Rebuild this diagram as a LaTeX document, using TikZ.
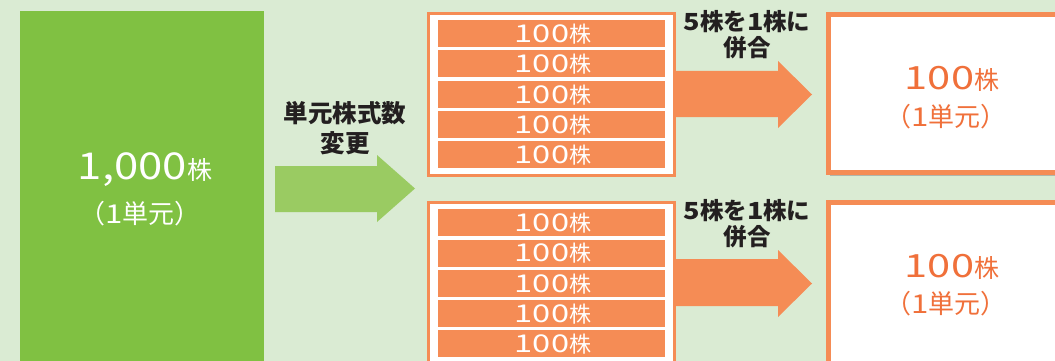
\documentclass[tikz,border=0pt]{standalone}
\usepackage{fontspec}
\usepackage{graphicx}
\setmainfont{Noto Sans CJK JP}
\usetikzlibrary{shadows}
\definecolor{bg}{HTML}{DAEBD3}
\definecolor{gbox}{HTML}{80C142}
\definecolor{garrow}{HTML}{9ACB62}
\definecolor{orb}{HTML}{F58C55}
\definecolor{ortxt}{HTML}{F0703A}
\definecolor{dark}{HTML}{231F20}
\newcommand{\dg}[2][1.3]{\scalebox{#1}[1]{#2}}
\tikzset{
  x=1pt, y=-1pt,
  bar/.style={fill=orb, draw=none},
  bartxt/.style={text=white, inner sep=0pt},
  lbl/.style={text=dark, font=\bfseries, align=center, inner sep=0pt},
  res/.style={fill=white, draw=orb, line width=5pt,
     drop shadow={shadow xshift=1pt, shadow yshift=-3pt, fill=black!45, opacity=0.55}},
}
\begin{document}
\begin{tikzpicture}
\useasboundingbox (0,0) rectangle (1055,361);
\fill[bg] (0,0) rectangle (1055,361);
\clip (0,0) rectangle (1055,361);
% left green block
\fill[gbox] (20,11) rectangle (264,375);
\node[text=white, inner sep=0pt] (g1) at (145,170) {\fontsize{37}{37}\selectfont\dg[1.18]{1,000}\fontsize{25}{25}\selectfont 株};
\node[text=white, inner sep=0pt] (g2) at (140,214) {\fontsize{26}{26}\selectfont （\dg[1.2]{1}単元）};
% green arrow
\fill[garrow] (275,166) -- (377,166) -- (377,155) -- (415,188.5) -- (377,222) -- (377,212) -- (275,212) -- cycle;
\node[lbl, font=\bfseries\fontsize{24.5}{30}\selectfont] (l1) at (345,128) {単元株式数\\変更};
% orange outer boxes
\draw[fill=white, draw=orb, line width=3.5pt] (428.5,13.5) rectangle (674.5,175.5);
\draw[fill=white, draw=orb, line width=3.5pt] (428.5,202.5) rectangle (674.5,375);
\foreach \t [count=\i] in {20,50.5,81,111,141} {
  \fill[bar] (438,\t) rectangle (665,\t+27);
  \node[bartxt] (a\i) at (553,\t+14) {\fontsize{24.5}{24.5}\selectfont\dg[1.33]{100}\fontsize{22}{22}\selectfont 株};
}
\foreach \t [count=\i] in {209,239.5,270,300,330} {
  \fill[bar] (438,\t) rectangle (665,\t+27);
  \node[bartxt] (b\i) at (553,\t+14) {\fontsize{24.5}{24.5}\selectfont\dg[1.33]{100}\fontsize{22}{22}\selectfont 株};
}
% orange arrows
\fill[orb] (676,71) -- (778,71) -- (778,61) -- (812,94.5) -- (778,128) -- (778,117) -- (676,117) -- cycle;
\fill[orb] (676,259) -- (778,259) -- (778,250) -- (812,283.5) -- (778,317) -- (778,306) -- (676,306) -- cycle;
\node[lbl, font=\bfseries\fontsize{23.5}{26}\selectfont] (m1) at (747,35) {\dg[1.15]{5}株を\dg[1.15]{1}株に\\併合};
\node[lbl, font=\bfseries\fontsize{23.5}{26}\selectfont] (m2) at (747,224) {\dg[1.15]{5}株を\dg[1.15]{1}株に\\併合};
% result boxes
\draw[res] (828.5,14.5) rectangle (1075,172.5);
\draw[res] (828.5,202.5) rectangle (1075,380);
\node[text=ortxt, inner sep=0pt] (r1) at (952,79) {\fontsize{32}{32}\selectfont\dg[1.3]{100}\fontsize{25}{25}\selectfont 株};
\node[text=ortxt, inner sep=0pt] (r2) at (946,117) {\fontsize{26}{26}\selectfont （\dg[1.2]{1}単元）};
\node[text=ortxt, inner sep=0pt] (r3) at (952,267) {\fontsize{32}{32}\selectfont\dg[1.3]{100}\fontsize{25}{25}\selectfont 株};
\node[text=ortxt, inner sep=0pt] (r4) at (946,304) {\fontsize{26}{26}\selectfont （\dg[1.2]{1}単元）};
\end{tikzpicture}
\end{document}
